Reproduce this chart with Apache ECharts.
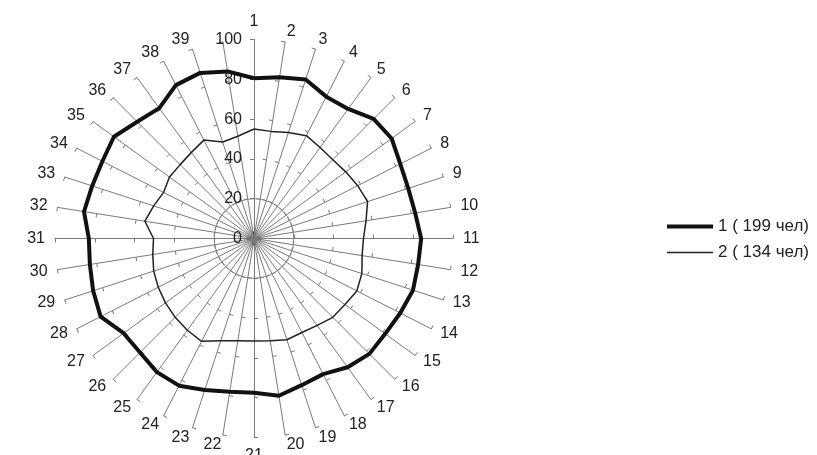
<!DOCTYPE html>
<html>
<head>
<meta charset="utf-8">
<script src="https://cdn.jsdelivr.net/npm/echarts@6/dist/echarts.min.js"></script>
<style>
  html, body { margin: 0; padding: 0; background: #fff; }
  #chart { width: 817px; height: 455px; }
</style>
</head>
<body>
<div id="chart"></div>
<script>
// оси по часовой стрелке от верха, 40-я ось без номера (там подпись 100)
var axisNames = ['1', '2', '3', '4', '5', '6', '7', '8', '9', '10',
  '11', '12', '13', '14', '15', '16', '17', '18', '19', '20',
  '21', '22', '23', '24', '25', '26', '27', '28', '29', '30',
  '31', '32', '33', '34', '35', '36', '37', '38', '39', '']
var group1 = [80.5, 82, 84, 80, 80.5, 85, 85.5, 82.5, 81.5, 82,
  84, 83.5, 84, 82.5, 81.5, 82, 80, 76.5, 77.5, 80,
  77.5, 78, 80, 83, 83, 81, 81, 86.5, 85, 83.5,
  83, 86.5, 85.5, 85.5, 87, 83, 81, 86.5, 87.5, 85]
var group2 = [55, 54.5, 56, 58, 56.5, 56, 57, 58.5, 60, 57,
  55, 55, 57, 58, 56.5, 56, 54, 53, 53.5, 52,
  51.5, 52, 54, 58, 57, 56, 55, 54, 53, 51.5,
  50.5, 55.5, 53, 51, 52.5, 52.5, 53.5, 55.5, 51, 52]
var legendNames = ['1 ( 199 чел)', '2 ( 134 чел)']
var scaleMax = 100
var scaleStep = 20

// radar идёт против часовой, поэтому переставляем: 1, 40, 39 ... 2
var order = [0]
for (var i = axisNames.length - 1; i >= 1; i--) order.push(i)

var indicators = order.map(function(k) {
  var ind = { name: axisNames[k], min: 0, max: scaleMax }
  if (k === 0) {
    ind.axisLabel = { show: true } // шкала только на первой оси
  }
  return ind
})
var pick = function(arr) { return order.map(function(k) { return arr[k] }) }

var chart = echarts.init(document.getElementById('chart'))
chart.setOption({
  animation: false,
  backgroundColor: '#fff',
  textStyle: { fontFamily: 'Liberation Sans, Arial, sans-serif' },
  legend: [
    {
      data: [legendNames[0]],
      left: 667,
      top: 218,
      padding: 0,
      icon: 'rect',
      itemWidth: 46,
      itemHeight: 4,
      textStyle: { color: '#222', fontSize: 17 }
    },
    {
      data: [legendNames[1]],
      left: 667,
      top: 244,
      padding: 0,
      icon: 'rect',
      itemWidth: 46,
      itemHeight: 1.5,
      textStyle: { color: '#222', fontSize: 17 }
    }
  ],
  radar: {
    center: [254, 238.5],
    radius: 199,
    startAngle: 90,
    shape: 'circle',
    splitNumber: scaleMax / scaleStep,
    nameGap: 10,
    axisName: { color: '#222', fontSize: 16 },
    indicator: indicators,
    axisLine: { lineStyle: { color: '#7a7a7a', width: 1 } },
    axisTick: { show: true, length: 4, lineStyle: { color: '#7a7a7a' } },
    axisLabel: {
      show: false,
      color: '#222',
      fontSize: 16,
      margin: 12
    },
    splitLine: {
      show: true,
      lineStyle: {
        color: ['rgba(0,0,0,0)', '#8a8a8a', 'rgba(0,0,0,0)', 'rgba(0,0,0,0)', 'rgba(0,0,0,0)', 'rgba(0,0,0,0)'],
        width: 1
      }
    },
    splitArea: { show: false }
  },
  series: [
    {
      type: 'radar',
      symbol: 'none',
      data: [
        {
          name: legendNames[0],
          value: pick(group1),
          lineStyle: { color: '#111', width: 4 },
          itemStyle: { color: '#111' }
        },
        {
          name: legendNames[1],
          value: pick(group2),
          lineStyle: { color: '#222', width: 1.5 },
          itemStyle: { color: '#222' }
        }
      ]
    }
  ],
  graphic: [
    { type: 'rect', shape: { x: 247, y: 237, width: 14, height: 3 }, style: { fill: '#111' } },
    { type: 'rect', shape: { x: 252.5, y: 231.5, width: 3, height: 14 }, style: { fill: '#111' } }
  ]
})
</script>
</body>
</html>
